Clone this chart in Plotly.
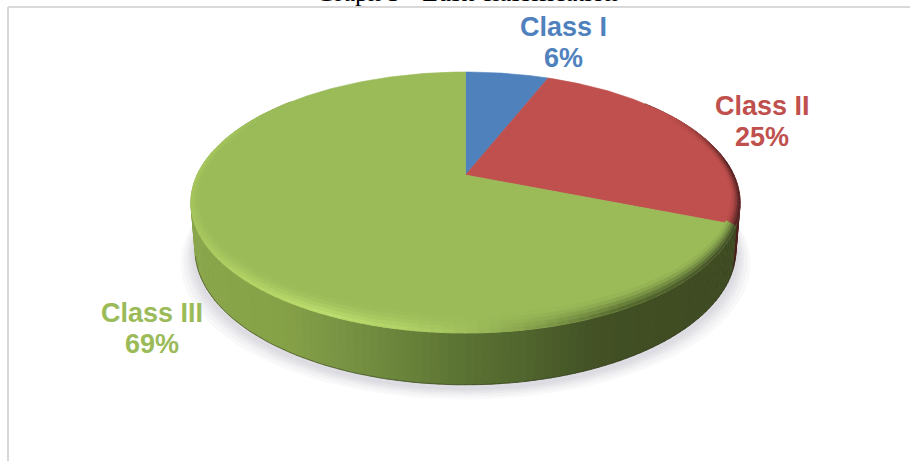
import math
import plotly.graph_objects as go

TITLE = "Graph 3 - Lusk classification"
CATEGORIES = ["Class I", "Class II", "Class III"]
VALUES = [6, 25, 69]
COLORS = ["#4f81bd", "#c0504d", "#9bbb59"]
LABEL_X = [563, 762, 152]
LABEL_Y = [27, 106, 313]
LINE_GAP = 31

W, H = 910, 461
CX, CY = 465.5, 175.0
PERSP = 55 / 261
SCALE_X, SCALE_Y = 268.4, -87.83
DEPTH = 46.0

def hex_rgb(c):
    return tuple(int(c[i:i + 2], 16) for i in (1, 3, 5))

def css(c, a=None):
    r, g, b = [int(max(0, min(255, round(v)))) for v in c]
    return f"rgb({r},{g},{b})" if a is None else f"rgba({r},{g},{b},{a})"

def project(X, Y):
    w = 1 + PERSP * Y
    return CX + SCALE_X * X / w, (CY + SCALE_Y * Y) / w

def bottom(X, Y):
    w = 1 + PERSP * Y
    sx, sy = project(X * 0.985, Y)
    return sx, sy + DEPTH / math.sqrt(w)

def on_circle(a):
    return math.sin(a), math.cos(a)

def lerp_table(table, x):
    if x <= table[0][0]:
        return table[0][1]
    for (x0, c0), (x1, c1) in zip(table, table[1:]):
        if x <= x1:
            t = (x - x0) / (x1 - x0)
            return tuple(p + (q - p) * t for p, q in zip(c0, c1))
    return table[-1][1]

GREEN = hex_rgb(COLORS[2])
WALL_TABLE = [(190, "#8aa64b"), (280, "#86a247"), (330, "#7b9644"), (400, "#6a843b"),
              (460, "#5b7333"), (540, "#4e612c"), (600, "#425024"), (740, "#3e4a22")]
WALL_TABLE = [(x, hex_rgb(c)) for x, c in WALL_TABLE]
RIM_TABLE = [(190, "#a6c55e"), (240, "#b2d265"), (320, "#bcdd6e"), (400, "#b2d268"),
             (470, "#9fbe5b"), (545, "#7f9a48"), (620, "#586c30"), (740, "#44522a")]
RIM_TABLE = [(x, hex_rgb(c)) for x, c in RIM_TABLE]

def shaded(table, x, base):
    c = lerp_table(table, x)
    return tuple(b * v / g for b, v, g in zip(base, c, GREEN))

fig = go.Figure()

def poly(xs, ys, color):
    fig.add_trace(go.Scatter(x=xs, y=ys, mode="lines", fill="toself", fillcolor=color,
                             line=dict(color=color, width=0.6), hoverinfo="skip", showlegend=False))

# slice boundaries come from the values
total = sum(VALUES)
edges = [0.0]
for v in VALUES:
    edges.append(edges[-1] + v / total * 2 * math.pi)

def slice_of(a):
    for i in range(len(VALUES)):
        if edges[i] <= a <= edges[i + 1]:
            return i
    return len(VALUES) - 1

# soft ground shadow
ring = [on_circle(i / 120 * 2 * math.pi) for i in range(121)]
for grow in (14, 11, 8, 6, 4, 2):
    xs, ys = [], []
    for X, Y in ring:
        sx, sy = bottom(X, Y)
        xs.append(CX + (sx - CX) * (1 + grow / 270))
        ys.append(sy + 3 + grow * 0.8)
    poly(xs, ys, "rgba(110,110,125,0.038)")

# side wall
STEP = math.radians(1.5)
n = int(2 * math.pi / STEP)
for i in range(n):
    a0, a1 = i * STEP, (i + 1.1) * STEP
    p0, p1 = on_circle(a0), on_circle(a1)
    if p0[1] > 0.65:
        continue
    mid = (a0 + a1) / 2
    base = hex_rgb(COLORS[slice_of(mid)])
    t0, t1, b1, b0 = project(*p0), project(*p1), bottom(*p1), bottom(*p0)
    col = shaded(WALL_TABLE, (t0[0] + t1[0]) / 2, base)
    poly([t0[0], t1[0], b1[0], b0[0], t0[0]], [t0[1], t1[1], b1[1], b0[1], t0[1]], css(col))

# dark contact line at the foot of the wall
xs, ys = [], []
for i in range(n + 1):
    p = on_circle(i * STEP)
    if p[1] < -0.25:
        s = bottom(*p)
        xs.append(s[0]); ys.append(s[1])
    elif xs and xs[-1] is not None:
        xs.append(None); ys.append(None)
fig.add_trace(go.Scatter(x=xs, y=ys, mode="lines", line=dict(color="rgba(45,50,25,0.5)", width=1),
                         hoverinfo="skip", showlegend=False))

# top face
for i, color in enumerate(COLORS):
    m = max(2, int((edges[i + 1] - edges[i]) / math.radians(1)))
    xs, ys = [CX], [CY]
    for k in range(m + 1):
        s = project(*on_circle(edges[i] + (edges[i + 1] - edges[i]) * k / m))
        xs.append(s[0]); ys.append(s[1])
    xs.append(CX); ys.append(CY)
    poly(xs, ys, color)

# bevel along the front edge
BANDS = [(1.0, 0.8), (0.8, 0.6), (0.6, 0.4), (0.4, 0.2), (0.2, 0.0)]
MIX = [1.0, 0.75, 0.48, 0.25, 0.08]
RSTEP = math.radians(2.0)
nr = int(2 * math.pi / RSTEP)

def inset(p, u):
    return project(p[0] * (1 - 0.028 * u), p[1] * (1 - 0.095 * u))

for j, (u0, u1) in enumerate(BANDS):
    for i in range(nr):
        a0, a1 = i * RSTEP, (i + 1.1) * RSTEP
        p0, p1 = on_circle(a0), on_circle(a1)
        if p0[1] > 0.55:
            continue
        mid = (a0 + a1) / 2
        k = slice_of(mid)
        base = hex_rgb(COLORS[k])
        my = (p0[1] + p1[1]) / 2
        fade = max(0.0, min(1.0, (0.55 - my) / 0.45))
        A, B, C, D = inset(p0, 1 - u0), inset(p1, 1 - u0), inset(p1, 1 - u1), inset(p0, 1 - u1)
        edge = shaded(RIM_TABLE, (A[0] + B[0]) / 2, base)
        mix = MIX[j] * fade
        col = tuple(b + (e - b) * mix for b, e in zip(base, edge))
        poly([A[0], B[0], C[0], D[0], A[0]], [A[1], B[1], C[1], D[1], A[1]], css(col))

# outer frame of the picture
FRAME = "#d9d9d9"
shapes = [
    dict(type="line", x0=8, x1=8, y0=7, y1=H, line=dict(color=FRAME, width=2), layer="below"),
    dict(type="line", x0=8, x1=W, y0=7, y1=7, line=dict(color=FRAME, width=2), layer="below"),
]

annotations = [dict(x=467, y=9.5, yanchor="bottom", xanchor="center", showarrow=False, text=TITLE,
                    font=dict(family="Liberation Serif", size=26, color="#000000"))]
for cat, val, col, lx, ly in zip(CATEGORIES, VALUES, COLORS, LABEL_X, LABEL_Y):
    for txt, yy in ((cat, ly), (f"{val}%", ly + LINE_GAP)):
        annotations.append(dict(x=lx, y=yy, xanchor="center", yanchor="middle", showarrow=False,
                                text=f"<b>{txt}</b>",
                                font=dict(family="Liberation Sans", size=27, color=col)))

fig.update_layout(
    width=W, height=H, margin=dict(l=0, r=0, t=0, b=0),
    paper_bgcolor="#ffffff", plot_bgcolor="#ffffff", showlegend=False,
    xaxis=dict(range=[0, W], visible=False, fixedrange=True),
    yaxis=dict(range=[H, 0], visible=False, fixedrange=True),
    shapes=shapes, annotations=annotations,
)
fig.write_html("out.html", config=dict(displayModeBar=False),
               post_script="document.body.style.margin='0';document.body.style.overflow='hidden';")
